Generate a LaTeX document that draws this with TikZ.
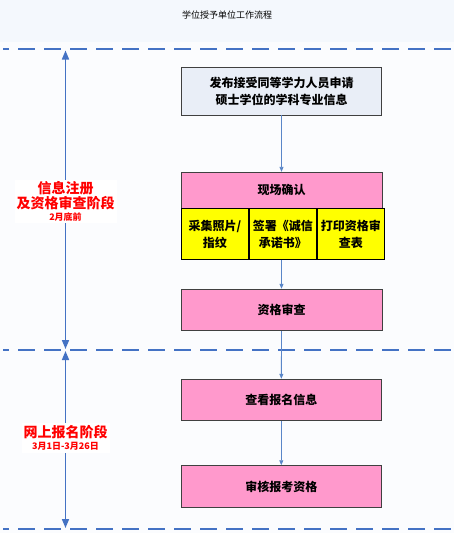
\documentclass[tikz,border=0pt]{standalone}
\usepackage{fontspec}
\setmainfont{Liberation Sans}
\newfontfamily\cjk{Noto Sans CJK SC}
\usetikzlibrary{arrows.meta}
\definecolor{lineblue}{HTML}{4472C4}
\definecolor{linkblue}{HTML}{5A86C8}
\definecolor{boxgray}{HTML}{E9EEF7}
\definecolor{boxpink}{HTML}{FF99CC}
\definecolor{boxyellow}{HTML}{FFFF00}
\definecolor{headbg}{HTML}{F4F8FD}

\begin{document}
\begin{tikzpicture}[x=1pt,y=-1pt,
  stepbox/.style={draw=black!75,line width=0.9pt,minimum width=200pt,inner sep=0pt,align=center,font=\cjk\bfseries\fontsize{12}{17}\selectfont},
  subbox/.style={draw=black,line width=0.9pt,fill=boxyellow,minimum width=67pt,minimum height=51pt,inner sep=0pt,align=center,font=\cjk\bfseries\fontsize{12}{17}\selectfont},
  link/.style={draw=linkblue,line width=0.8pt,-{Triangle[length=5pt,width=4pt]}},
  phase/.style={draw=lineblue,line width=1.6pt,{Triangle[length=9pt,width=7pt]}-{Triangle[length=9pt,width=7pt]}},
  border/.style={draw=lineblue,line width=2.8pt,dash pattern=on 17pt off 9pt,dash phase=11pt},
  stage/.style={fill=white,text=red,align=center,inner sep=2pt,font=\cjk\bfseries}]
% background
\useasboundingbox (0,0) rectangle (454,533);
\fill[headbg] (0,0) rectangle (454,533);
\fill[white!60!headbg] (0,42) rectangle (454,533);
\node[font=\cjk\fontsize{9}{11}\selectfont] (title) at (227,15) {学位授予单位工作流程};

% phase borders
\draw[border] (3,49) -- (454,49);
\draw[border] (3,350) -- (454,350);
\draw[border] (3,529) -- (454,529);

% process boxes
\node[stepbox,fill=boxgray,minimum height=48pt] (publish) at (281.5,91) {发布接受同等学力人员申请\\硕士学位的学科专业信息};
\node[stepbox,fill=boxpink,minimum width=201pt,minimum height=36pt] (confirm) at (281.5,190.3) {现场确认};
\node[subbox,anchor=north west] (photo) at (181,208.3) {采集照片/\\指纹};
\node[subbox,anchor=north west] (pledge) at (photo.north east) {签署《诚信\\承诺书》};
\node[subbox,anchor=north west] (print) at (pledge.north east) {打印资格审\\查表};
\node[stepbox,fill=boxpink,minimum width=201pt,minimum height=41.5pt] (check) at (281.5,310) {资格审查};
\node[stepbox,fill=boxpink,minimum height=41.5pt] (view) at (281.3,400) {查看报名信息};
\node[stepbox,fill=boxpink,minimum height=42pt] (verify) at (281.3,486.7) {审核报考资格};

\draw[link] (publish) -- (confirm);
\draw[link] (confirm.south |- photo.south) -- (check);
\draw[link] (check) -- (view);
\draw[link] (view) -- (verify);

% phases
\coordinate (p1top) at (65.5,50.5);
\coordinate (p1bot) at (65.5,349);
\coordinate (p2top) at (65.5,351);
\coordinate (p2bot) at (65.5,528);
\draw[phase] (p1top) -- (p1bot);
\draw[phase] (p2top) -- (p2bot);
\node[stage] (reg) at (65.5,201.5) {\fontsize{14}{18}\selectfont 信息注册\\\fontsize{14}{18}\selectfont 及资格审查阶段\\\fontsize{9}{11}\selectfont 2月底前};
\node[stage] (apply) at (65.5,438) {\fontsize{14}{19}\selectfont 网上报名阶段\\\fontsize{9}{11}\selectfont 3月1日-3月26日};
\end{tikzpicture}
\end{document}
